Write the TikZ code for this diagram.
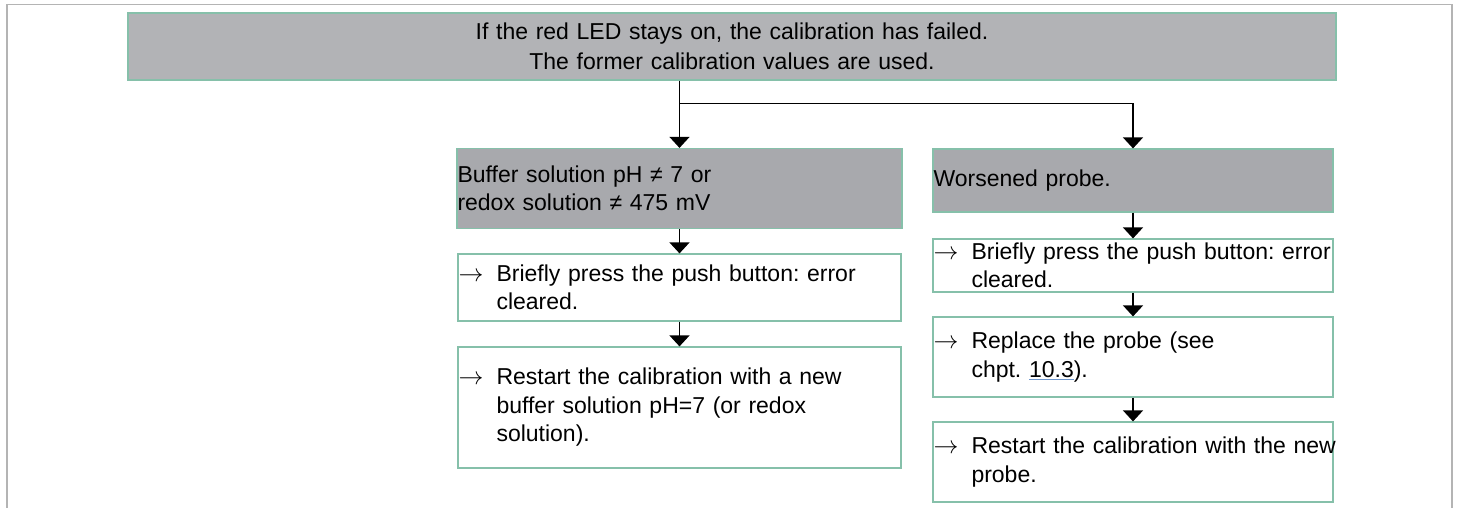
\documentclass[tikz,border=0pt]{standalone}
\usepackage{fontspec}
\setmainfont{Liberation Sans}
\usetikzlibrary{arrows.meta,positioning,calc}

\definecolor{headgray}{RGB}{178,179,182}
\definecolor{causegray}{RGB}{168,169,173}
\definecolor{boxline}{RGB}{134,192,170}
\definecolor{framegray}{RGB}{180,180,180}
\definecolor{linkblue}{RGB}{110,150,205}

\tikzset{
    basebox/.style={draw=boxline, line width=1.2pt, inner xsep=0.5pt, inner ysep=0pt,
        align=left, font=\fontsize{23}{28.5}\selectfont\frenchspacing},
    headbox/.style={basebox, fill=headgray, align=center, font=\fontsize{23}{30}\selectfont},
    causebox/.style={basebox, fill=causegray},
    actbox/.style={basebox, fill=white},
    flow/.style={-{Triangle[width=20pt,length=11pt]}, line width=1.2pt}
}

\newcommand{\act}{\makebox[38pt][l]{$\rightarrow$}}

\begin{document}
\begin{tikzpicture}[x=1pt, y=-1pt]
    \useasboundingbox (0,0) rectangle (1458,508);
    % outer frame
    \draw[framegray, line width=1.8pt] (7,508) -- (7,4.5) -- (1452,4.5) -- (1452,508);

    % header
    \node[headbox, text width=1207pt, minimum height=67pt] (head) at (732,46.5)
        {If the red LED stays on, the calibration has failed.\\
         The former calibration values are used.};

    % left branch
    \node[causebox, text width=444pt, minimum height=80pt] (buffer) at (679.5,188.5)
        {Buffer solution pH ≠ 7 or\\
         redox solution ≠ 475 mV};
    \node[actbox, text width=442pt, minimum height=67pt] (lpress) at (679.5,287.5)
        {\act Briefly press the push button: error\\
         \hspace*{38pt}cleared.};
    \node[actbox, text width=442pt, minimum height=121pt] (lrestart) at (679.5,407.5)
        {\act Restart the calibration with a new\\
         \hspace*{38pt}buffer solution pH=7 (or redox\\
         \hspace*{38pt}solution).};

    % right branch
    \node[causebox, text width=399pt, minimum height=63pt] (probe) at (1133,180.5)
        {Worsened probe.};
    \node[actbox, text width=399pt, minimum height=53pt] (rpress) at (1133,265.5)
        {\mbox{\act Briefly press the push button: error}\\
         \hspace*{38pt}cleared.};
    \node[actbox, text width=399pt, minimum height=80pt] (replace) at (1133,357)
        {\act Replace the probe (see\\
         \hspace*{38pt}chpt. {\color{linkblue}$\underline{\hbox{\color{black}10.3}}$}).};
    \node[actbox, text width=399pt, minimum height=80pt] (rrestart) at (1133,462)
        {\mbox{\act Restart the calibration with the new}\\
         \hspace*{38pt}probe.};

    % connectors
    \coordinate (split) at ($(head.south -| buffer.north)+(0,23)$);
    \draw[flow] (head.south -| buffer.north) -- (buffer.north);
    \draw[flow] (split) -| (probe.north);
    \draw[flow] (buffer) -- (lpress);
    \draw[flow] (lpress) -- (lrestart);
    \draw[flow] (probe) -- (rpress);
    \draw[flow] (rpress) -- (replace);
    \draw[flow] (replace) -- (rrestart);
\end{tikzpicture}
\end{document}
